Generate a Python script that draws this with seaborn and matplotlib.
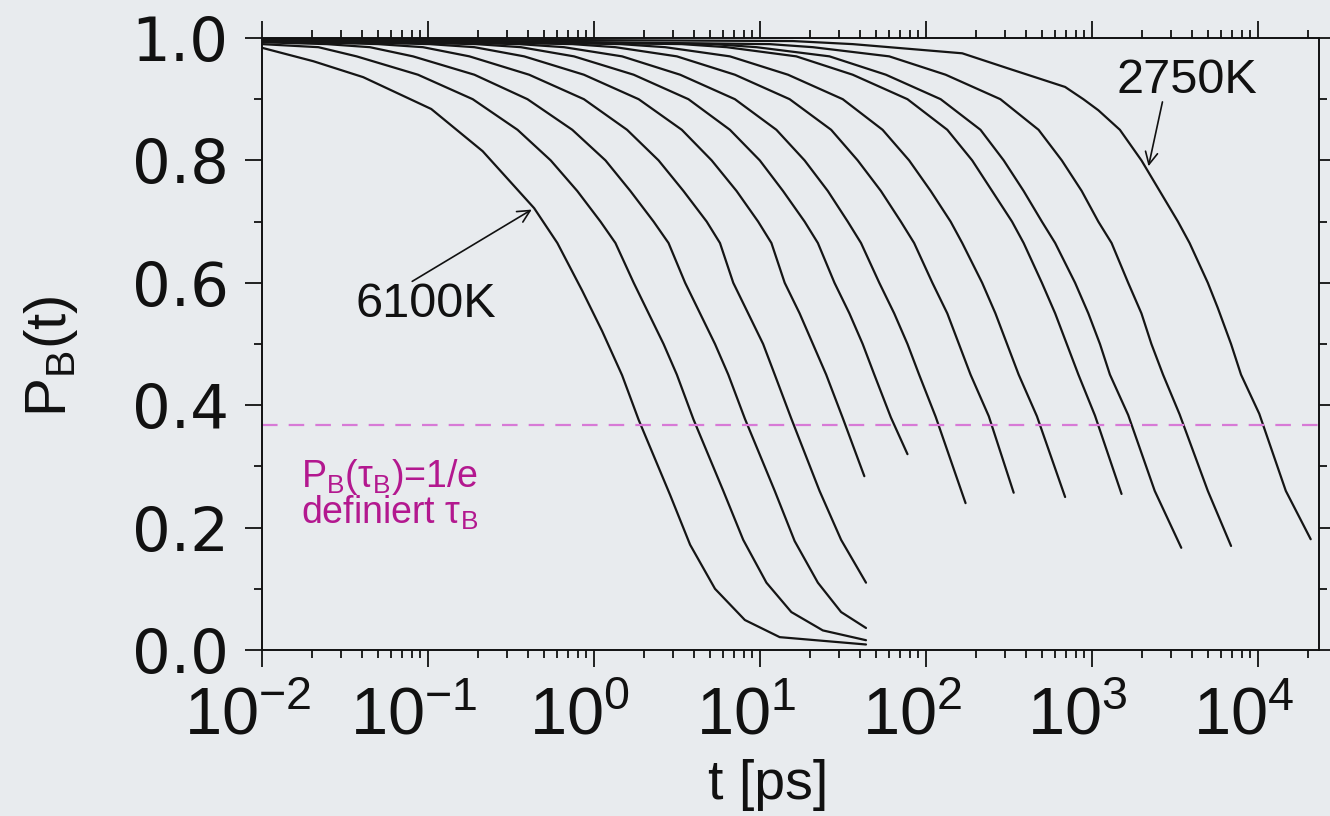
import numpy as np
import pandas as pd
import matplotlib
matplotlib.use("Agg")
import matplotlib.pyplot as plt
import matplotlib.transforms as mtransforms
from matplotlib.ticker import FixedLocator, LogLocator, NullFormatter
import seaborn as sns

sns.set_theme(style="ticks")
plt.rcParams["font.family"] = ["Liberation Sans", "DejaVu Sans"]
plt.rcParams["mathtext.fontset"] = "custom"
plt.rcParams["mathtext.rm"] = "Liberation Sans"
plt.rcParams["mathtext.it"] = "Liberation Sans:italic"
plt.rcParams["mathtext.bf"] = "Liberation Sans:bold"

# ---------------- data (log10 of t in ps, and P_B) ----------------
logt_6100 = [-2.00, -1.69, -1.39, -0.98, -0.67, -0.36, -0.22, -0.07, 0.05, 0.17, 0.27, 0.46, 0.58, 0.73, 0.91, 1.12, 1.64]
p_6100 = [0.984, 0.962, 0.936, 0.884, 0.815, 0.722, 0.665, 0.587, 0.521, 0.449, 0.376, 0.253, 0.172, 0.100, 0.049, 0.021, 0.009]

logt_c2 = [-2.00, -1.66, -1.43, -1.06, -0.73, -0.46, -0.26, -0.10, 0.04, 0.13, 0.24, 0.33, 0.42, 0.50, 0.60, 0.78, 0.90, 1.04, 1.19, 1.38, 1.64]
p_c2 = [0.990, 0.985, 0.970, 0.940, 0.900, 0.850, 0.800, 0.750, 0.700, 0.665, 0.600, 0.550, 0.500, 0.450, 0.377, 0.260, 0.180, 0.110, 0.062, 0.032, 0.016]

logt_c3 = [-2.00, -1.61, -1.35, -1.09, -0.72, -0.40, -0.13, 0.07, 0.22, 0.36, 0.45, 0.55, 0.64, 0.73, 0.81, 0.91, 1.09, 1.21, 1.35, 1.49, 1.64]
p_c3 = [0.993, 0.990, 0.985, 0.970, 0.940, 0.900, 0.850, 0.800, 0.750, 0.700, 0.665, 0.600, 0.550, 0.500, 0.450, 0.378, 0.260, 0.178, 0.110, 0.062, 0.036]

logt_c4 = [-2.00, -1.30, -1.03, -0.75, -0.39, -0.06, 0.20, 0.39, 0.54, 0.68, 0.76, 0.84, 0.93, 1.02, 1.09, 1.19, 1.36, 1.49, 1.64]
p_c4 = [0.995, 0.990, 0.985, 0.970, 0.940, 0.900, 0.850, 0.800, 0.750, 0.700, 0.665, 0.600, 0.550, 0.500, 0.450, 0.378, 0.260, 0.180, 0.110]

logt_c5 = [-2.00, -0.99, -0.72, -0.42, -0.06, 0.27, 0.53, 0.71, 0.86, 0.99, 1.07, 1.15, 1.24, 1.32, 1.40, 1.50, 1.63]
p_c5 = [0.996, 0.990, 0.985, 0.970, 0.940, 0.900, 0.850, 0.800, 0.750, 0.700, 0.665, 0.600, 0.550, 0.500, 0.450, 0.379, 0.284]

logt_c6 = [-2.00, -0.71, -0.44, -0.12, 0.24, 0.57, 0.82, 1.00, 1.14, 1.27, 1.35, 1.45, 1.54, 1.62, 1.69, 1.79, 1.89]
p_c6 = [0.997, 0.990, 0.985, 0.970, 0.940, 0.900, 0.850, 0.800, 0.750, 0.700, 0.665, 0.600, 0.550, 0.500, 0.450, 0.380, 0.320]

logt_c7 = [-2.00, -0.45, -0.18, 0.17, 0.52, 0.85, 1.10, 1.27, 1.41, 1.53, 1.61, 1.72, 1.81, 1.89, 1.96, 2.06, 2.24]
p_c7 = [0.998, 0.990, 0.985, 0.970, 0.940, 0.900, 0.850, 0.800, 0.750, 0.700, 0.665, 0.600, 0.550, 0.500, 0.450, 0.381, 0.240]

logt_c8 = [-2.00, -0.13, 0.13, 0.50, 0.85, 1.18, 1.43, 1.59, 1.73, 1.85, 1.93, 2.04, 2.13, 2.20, 2.27, 2.38, 2.53]
p_c8 = [0.999, 0.990, 0.985, 0.970, 0.940, 0.900, 0.850, 0.800, 0.750, 0.700, 0.665, 0.600, 0.550, 0.500, 0.450, 0.382, 0.257]

logt_c9 = [-2.00, 0.16, 0.43, 0.82, 1.17, 1.50, 1.74, 1.90, 2.03, 2.15, 2.22, 2.34, 2.42, 2.49, 2.56, 2.67, 2.84]
p_c9 = [0.999, 0.990, 0.985, 0.970, 0.940, 0.900, 0.850, 0.800, 0.750, 0.700, 0.665, 0.600, 0.550, 0.500, 0.450, 0.382, 0.250]

logt_c10 = [-2.00, 0.53, 0.80, 1.22, 1.56, 1.89, 2.13, 2.28, 2.40, 2.52, 2.59, 2.70, 2.78, 2.85, 2.92, 3.02, 3.18]
p_c10 = [0.999, 0.990, 0.985, 0.970, 0.940, 0.900, 0.850, 0.800, 0.750, 0.700, 0.665, 0.600, 0.550, 0.500, 0.450, 0.383, 0.255]

logt_c11 = [-2.00, 0.72, 0.98, 1.42, 1.76, 2.09, 2.33, 2.47, 2.59, 2.70, 2.78, 2.90, 2.98, 3.05, 3.11, 3.22, 3.38, 3.54]
p_c11 = [0.999, 0.990, 0.985, 0.970, 0.940, 0.900, 0.850, 0.800, 0.750, 0.700, 0.665, 0.600, 0.550, 0.500, 0.450, 0.384, 0.260, 0.167]

logt_c12 = [-2.00, 1.06, 1.32, 1.78, 2.12, 2.45, 2.68, 2.82, 2.94, 3.04, 3.12, 3.22, 3.30, 3.36, 3.43, 3.53, 3.70, 3.84]
p_c12 = [0.999, 0.990, 0.985, 0.970, 0.940, 0.900, 0.850, 0.800, 0.750, 0.700, 0.665, 0.600, 0.550, 0.500, 0.450, 0.385, 0.260, 0.170]

logt_2750 = [-2.00, 1.20, 1.56, 2.22, 2.50, 2.84, 2.95, 3.04, 3.17, 3.30, 3.41, 3.52, 3.59, 3.70, 3.76, 3.84, 3.90, 4.01, 4.17, 4.32]
p_2750 = [0.999, 0.995, 0.990, 0.975, 0.950, 0.920, 0.900, 0.882, 0.850, 0.800, 0.750, 0.700, 0.665, 0.600, 0.559, 0.500, 0.450, 0.386, 0.260, 0.181]

curve_names = ["6100K", "c2", "c3", "c4", "c5", "c6", "c7", "c8", "c9", "c10", "c11", "c12", "2750K"]
curve_logt = [logt_6100, logt_c2, logt_c3, logt_c4, logt_c5, logt_c6, logt_c7,
              logt_c8, logt_c9, logt_c10, logt_c11, logt_c12, logt_2750]
curve_p = [p_6100, p_c2, p_c3, p_c4, p_c5, p_c6, p_c7, p_c8, p_c9, p_c10, p_c11, p_c12, p_2750]

x_tick_exponents = [-2, -1, 0, 1, 2, 3, 4]
y_ticks = [0.0, 0.2, 0.4, 0.6, 0.8, 1.0]
y_tick_labels = ["0.0", "0.2", "0.4", "0.6", "0.8", "1.0"]
threshold = 1 / np.e

rows = []
for name, lt, pp in zip(curve_names, curve_logt, curve_p):
    for i, (a, b) in enumerate(zip(lt, pp)):
        rows.append({"curve": name, "order": i, "t": 10.0 ** a, "P": b})
df = pd.DataFrame(rows)

# ---------------- figure ----------------
BG = "#e8ebee"
INK = "#111111"
W, H = 1330, 816
fig = plt.figure(figsize=(W / 100, H / 100), dpi=100, facecolor=BG)
L, R, T, B = 262, 1319, 38, 650
ax = fig.add_axes([L / W, 1 - B / H, (R - L) / W, (B - T) / H])
ax.set_facecolor(BG)

sns.lineplot(data=df, x="t", y="P", units="curve", estimator=None, sort=False,
             color="#151515", linewidth=1.6, ax=ax, legend=False)

ax.axhline(threshold, color="#d77ad6", linewidth=1.6, dashes=(7, 5))

ax.set_xscale("log")
ax.set_xlim(1e-2, 10 ** 4.37)
ax.set_ylim(0, 1.0)

x_ticks = [10.0 ** e for e in x_tick_exponents]
ax.xaxis.set_major_locator(FixedLocator(x_ticks))
ax.xaxis.set_minor_locator(LogLocator(base=10, subs=np.arange(2, 10), numticks=20))
ax.xaxis.set_minor_formatter(NullFormatter())
ax.yaxis.set_major_locator(FixedLocator(y_ticks))
ax.yaxis.set_minor_locator(FixedLocator([0.1, 0.3, 0.5, 0.7, 0.9]))

for s in ax.spines.values():
    s.set_linewidth(1.4)
    s.set_color(INK)
    s.set_visible(True)

ax.tick_params(which="both", direction="out", top=True, right=True, color=INK, width=1.3)
ax.tick_params(which="major", length=12)
ax.tick_params(which="minor", length=6)
ax.tick_params(axis="y", which="major", pad=12)
ax.tick_params(axis="x", which="major", pad=14)

ax.set_yticklabels(y_tick_labels, fontsize=44, fontfamily="DejaVu Sans", color=INK)
ax.set_xticklabels([r"$\mathdefault{10^{%d}}$" % e for e in x_tick_exponents],
                   fontsize=48, fontfamily="Liberation Sans", color=INK)

ax.set_xlabel("t [ps]", fontsize=40, color=INK)
ax.set_ylabel(r"P$_\mathregular{B}$(t)", fontsize=42, color=INK)
ax.xaxis.set_label_coords(0.479, -0.178)
ax.yaxis.set_label_coords(-0.172, 0.48)

# annotations
ax.text(10 ** -1.01, 0.565, "6100K", fontsize=35, ha="center", va="center", color=INK)
ax.annotate("", xy=(10 ** -0.36, 0.722), xytext=(0.0778, 0.60),
            arrowprops=dict(arrowstyle="->", lw=1.2, color=INK, mutation_scale=22))
ax.text(10 ** 3.575, 0.93, "2750K", fontsize=35, ha="center", va="center", color=INK)
ax.annotate("", xy=(2183, 0.786), xytext=(2692, 0.90),
            arrowprops=dict(arrowstyle="->", lw=1.2, color=INK, mutation_scale=22))

mag = "#b3188f"
ax.text(10 ** -1.764, 0.316, r"P$_\mathregular{B}$(τ$_\mathregular{B}$)=1/e", fontsize=27, color=mag,
        ha="left", va="top")
ax.text(10 ** -1.764, 0.255, r"definiert τ$_\mathregular{B}$", fontsize=27, color=mag, ha="left", va="top")

fig.canvas.draw()
off = mtransforms.ScaledTranslation(-14 / 100, 0, fig.dpi_scale_trans)
for lab in ax.get_xticklabels():
    lab.set_transform(lab.get_transform() + off)

fig.savefig("out.png", dpi=100, facecolor=BG)
